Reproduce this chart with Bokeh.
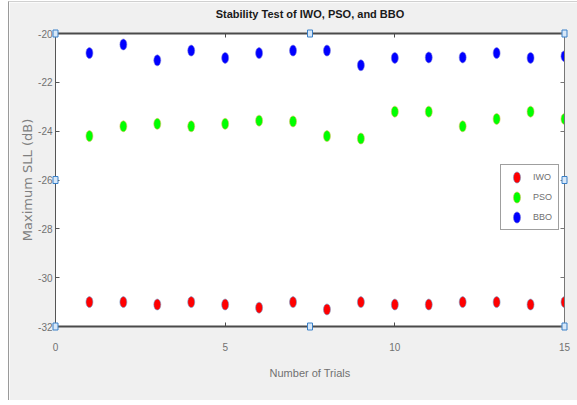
from bokeh.plotting import figure
from bokeh.models import LinearAxis, FixedTicker, Range1d, Legend, LegendItem, ColumnDataSource
from bokeh.embed import file_html
from bokeh.resources import INLINE

trials = [1, 2, 3, 4, 5, 6, 7, 8, 9, 10, 11, 12, 13, 14, 15]
iwo = [-31.0, -31.0, -31.1, -31.0, -31.1, -31.23, -31.0, -31.3, -31.0, -31.1, -31.1, -31.0, -31.0, -31.1, -31.0]
pso = [-24.2, -23.8, -23.7, -23.8, -23.7, -23.57, -23.6, -24.2, -24.3, -23.2, -23.2, -23.8, -23.5, -23.2, -23.5]
bbo = [-20.8, -20.45, -21.1, -20.7, -21.0, -20.8, -20.7, -20.7, -21.3, -21.0, -20.98, -20.98, -20.8, -21.0, -20.93]
x_ticks = [0, 5, 10, 15]
x_tick_labels = ["0", "5", "10", "15"]
y_ticks = [-32, -30, -28, -26, -24, -22, -20]
y_tick_labels = ["-32", "-30", "-28", "-26", "-24", "-22", "-20"]
x_lim = (0, 15)
y_lim = (-32, -20)
title_text = "Stability Test of IWO, PSO, and BBO"

FONT = "Liberation Sans"
GRAY = "#707070"

p = figure(width=569, height=399, output_backend="svg", toolbar_location=None,
           x_range=Range1d(*x_lim), y_range=Range1d(*y_lim),
           min_border_left=46, min_border_right=14, min_border_top=31, min_border_bottom=75,
           background_fill_color="white", border_fill_color="#f0f0f0",
           styles={"margin-left": "8px", "margin-top": "1px",
                   "border-left": "1px solid #9a9a9a", "border-top": "1px solid #d0d0d0"})
p.outline_line_color = None
p.grid.visible = False

x0, x1 = x_lim
y0, y1 = y_lim
xm, ym = (x0 + x1) / 2, (y0 + y1) / 2


def style_axis(ax, lw=1, lc="#555555"):
    ax.major_tick_in = 4
    ax.major_tick_out = 0
    ax.minor_tick_line_color = None
    ax.axis_line_width = lw
    ax.axis_line_color = lc
    ax.major_tick_line_color = lc
    ax.major_label_text_font = FONT
    ax.major_label_text_font_size = "10px"
    ax.major_label_text_color = GRAY
    ax.axis_label_text_font = FONT
    ax.axis_label_text_color = GRAY
    ax.axis_label_text_font_style = "normal"


xb = p.xaxis[0]
style_axis(xb, lw=2, lc="#4a4a4a")
xb.ticker = FixedTicker(ticks=x_ticks)
xb.major_label_overrides = dict(zip(x_ticks, x_tick_labels))
xb.axis_label = "Number of Trials"
xb.axis_label_text_font_size = "11px"
xb.major_label_standoff = 16
xb.axis_label_standoff = 13

yl = p.yaxis[0]
style_axis(yl, lw=1, lc="#555555")
yl.ticker = FixedTicker(ticks=y_ticks)
yl.major_label_overrides = dict(zip(y_ticks, y_tick_labels))
yl.axis_label = "Maximum SLL (dB)"
yl.axis_label_text_font = "DejaVu Sans"
yl.axis_label_text_font_size = "13px"
yl.axis_label_text_color = "#808080"
yl.major_label_standoff = 3
yl.axis_label_standoff = 0

# top box edge; its axis label carries the chart title
xt = LinearAxis()
style_axis(xt, lw=2, lc="#4a4a4a")
xt.ticker = FixedTicker(ticks=x_ticks)
xt.major_label_overrides = {t: "" for t in x_ticks}
xt.major_label_text_font_size = "1px"
xt.major_label_standoff = 0
xt.axis_label = title_text
xt.axis_label_text_font_size = "11px"
xt.axis_label_text_font_style = "bold"
xt.axis_label_text_color = "#1a1a1a"
xt.axis_label_standoff = 14
p.add_layout(xt, "above")

yr = LinearAxis()
style_axis(yr, lw=1, lc="#777777")
yr.ticker = FixedTicker(ticks=y_ticks)
yr.major_label_overrides = {t: "" for t in y_ticks}
yr.major_label_text_font_size = "1px"
yr.major_label_standoff = 0
p.add_layout(yr, "right")

src = ColumnDataSource(dict(x=trials, iwo=iwo, pso=pso, bbo=bbo))
kw = dict(source=src, width=7, height=11, width_units="screen", height_units="screen", line_width=0.6)
r_iwo = p.ellipse("x", "iwo", fill_color="#ff0000", line_color="#6f9fd0", **kw)
r_pso = p.ellipse("x", "pso", fill_color="#00ff00", line_color="#e0c060", **kw)
r_bbo = p.ellipse("x", "bbo", fill_color="#0000ff", line_color="#8080e0", **kw)

# selection handles at the corners and midpoints of the axes box
p.rect([x0, xm, x1, x0, x1, x0, xm, x1], [y1, y1, y1, ym, ym, y0, y0, y0],
       width=5, height=7, width_units="screen", height_units="screen",
       fill_color="#d8e8f8", line_color="#3a80c8", line_width=1, level="overlay")

legend = Legend(items=[LegendItem(label="IWO", renderers=[r_iwo]),
                       LegendItem(label="PSO", renderers=[r_pso]),
                       LegendItem(label="BBO", renderers=[r_bbo])],
                location=(445, 96))
legend.label_text_font = FONT
legend.label_text_font_size = "9px"
legend.label_text_color = GRAY
legend.glyph_width = 21
legend.glyph_height = 14
legend.label_height = 14
legend.spacing = 6
legend.padding = 5
legend.margin = 0
legend.label_standoff = 6
legend.border_line_color = "#404040"
legend.border_line_width = 1
legend.background_fill_color = "white"
legend.background_fill_alpha = 1
p.add_layout(legend, "center")

open("out.html", "w").write(file_html(p, INLINE))
